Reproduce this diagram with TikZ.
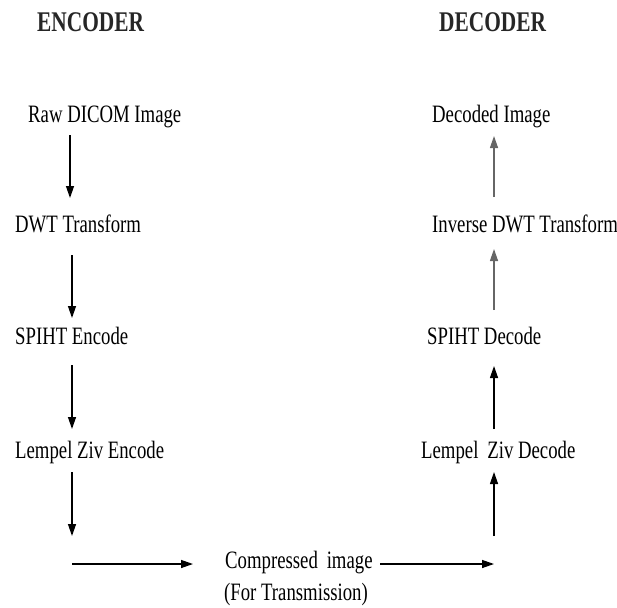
\documentclass[tikz,border=0pt]{standalone}
\usepackage{fontspec}
\setmainfont{Liberation Serif}[FakeStretch=0.75]
\usetikzlibrary{arrows.meta}
\begin{document}
\begin{tikzpicture}[x=1pt,y=-1pt,
  lbl/.style={anchor=base west,inner sep=0pt,font=\fontsize{25}{30}\selectfont},
  hdr/.style={anchor=base west,inner sep=0pt,font=\fontsize{28.5}{32}\selectfont\bfseries,text=black!85},
  arr/.style={line width=1.3pt,-{Triangle[length=12pt,width=8pt]}},
  garr/.style={arr,draw=black!60}]
\useasboundingbox (0,0) rectangle (617,607);
% headings
\node[hdr] (enc) at (37,32) {ENCODER};
\node[hdr] (dec) at (439,32) {DECODER};
% encoder
\node[lbl] (raw) at (28,122) {Raw DICOM Image};
\node[lbl] (dwt) at (15,232) {DWT Transform};
\node[lbl] (spe) at (15,344) {SPIHT Encode};
\node[lbl] (lze) at (15,458) {Lempel Ziv Encode};
% middle
\node[lbl] (cmp) at (225,568) {Compressed\, image};
\node[lbl] (trn) at (224,600) {(For Transmission)};
% decoder
\node[lbl] (dimg) at (432,122) {Decoded Image};
\node[lbl] (idwt) at (432,232) {Inverse DWT Transform};
\node[lbl] (spd) at (427,344) {SPIHT Decode};
\node[lbl] (lzd) at (421,458) {Lempel\, Ziv Decode};
% connector ends
\coordinate (a1s) at (70,135);  \coordinate (a1e) at (70,198);
\coordinate (a2s) at (72,255);  \coordinate (a2e) at (72,318);
\coordinate (a3s) at (72,365);  \coordinate (a3e) at (72,429);
\coordinate (a4s) at (72,472);  \coordinate (a4e) at (72,536);
\coordinate (h1s) at (72,564);  \coordinate (h1e) at (193,564);
\coordinate (h2s) at (380,564); \coordinate (h2e) at (494,564);
\coordinate (u1s) at (494,536); \coordinate (u1e) at (494,472);
\coordinate (u2s) at (494,429); \coordinate (u2e) at (494,366);
\coordinate (u3s) at (494,310); \coordinate (u3e) at (494,249);
\coordinate (u4s) at (494,197); \coordinate (u4e) at (494,136);
% arrows
\draw[arr] (a1s) -- (a1e);
\draw[arr] (a2s) -- (a2e);
\draw[arr] (a3s) -- (a3e);
\draw[arr] (a4s) -- (a4e);
\draw[arr] (h1s) -- (h1e);
\draw[arr] (h2s) -- (h2e);
\draw[arr] (u1s) -- (u1e);
\draw[arr] (u2s) -- (u2e);
\draw[garr] (u3s) -- (u3e);
\draw[garr] (u4s) -- (u4e);
\end{tikzpicture}
\end{document}
